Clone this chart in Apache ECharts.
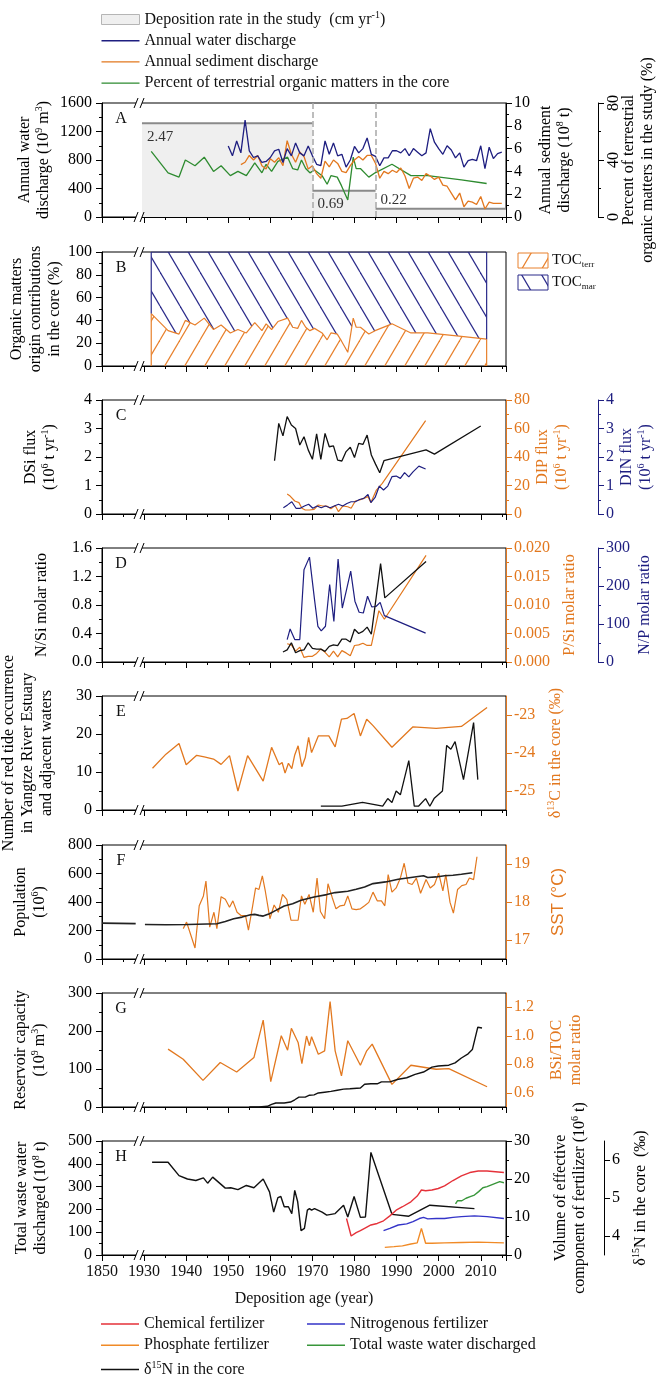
<!DOCTYPE html>
<html>
<head>
<meta charset="utf-8">
<script src="https://cdn.jsdelivr.net/npm/echarts@6/dist/echarts.min.js"></script>
<style>
  html, body { margin: 0; padding: 0; background: #fff; }
  #chart-container { width: 657px; height: 1374px; }
</style>
</head>
<body>
<div id="chart-container"></div>
<script>
// ---- data (years are real years; 1850s are shifted behind the axis break) ----
var depositionSegments = [
  { start: 1929.5, end: 1970, rate: 2.47 },
  { start: 1970, end: 1985, rate: 0.69 },
  { start: 1985, end: 2016, rate: 0.22 }
];
var waterStart = 1950;
var waterDischarge = [997, 858, 1067, 900, 1359, 928, 835, 858, 765, 780,
  835, 928, 951, 765, 960, 858, 1040, 900, 858, 997,
  858, 740, 720, 1067, 880, 1040, 858, 880, 700, 800,
  990, 900, 960, 1110, 880, 850, 720, 830, 830, 930,
  930, 900, 960, 860, 960, 910, 860, 900, 1240, 1050,
  960, 880, 1000, 940, 830, 900, 700, 790, 810, 790,
  1000, 680, 980, 820, 890, 910];
var sedimentStart = 1953;
var sedimentDischarge = [4.6, 4.8, 5.4, 5.0, 5.4, 4.5, 4.2,
  5.1, 4.8, 5.2, 4.5, 6.7, 5.5, 4.8, 5.7, 5.3, 4.2,
  4.5, 3.8, 3.4, 4.9, 4.4, 5.0, 4.7, 4.0, 3.9, 4.5,
  5.0, 5.3, 5.0, 5.4, 5.4, 4.7, 3.4, 4.0, 3.8, 4.1,
  3.9, 4.3, 3.6, 2.5, 3.4, 3.5, 3.2, 3.8, 3.6, 3.3,
  3.5, 2.8, 2.7, 2.1, 1.5, 2.1, 0.9, 1.4, 1.3, 1.1,
  1.8, 0.7, 1.3, 1.2, 1.2, 1.2];
var terrPercent = [[1931.7, 46], [1935.7, 31], [1938.3, 28], [1939.8, 40], [1942.1, 36], [1944.3, 42],
  [1946.5, 32], [1948.3, 36], [1950.5, 29], [1952.3, 32], [1954.3, 29], [1956.3, 38], [1958, 31],
  [1959, 37], [1960.3, 32], [1961.8, 39], [1964.1, 42], [1965.3, 34], [1966.5, 33], [1967.4, 40],
  [1968.4, 34], [1969.4, 31], [1970.5, 33], [1972.3, 29], [1973.5, 23], [1974.4, 29], [1975.9, 28],
  [1976.9, 22], [1978.4, 12], [1979.7, 42], [1980.4, 34], [1981.4, 34], [1983.4, 28], [1984.9, 31],
  [1988.9, 37], [1993.4, 29], [1997.4, 29], [2005.4, 26], [2011.4, 23.5]];

var dsiFlux = [[1961, 1.87], [1962, 3.18], [1963, 2.74], [1964, 3.42], [1965, 3.12], [1966, 3.0], [1967, 2.42],
  [1968, 2.71], [1969, 2.25], [1970, 1.92], [1971, 2.81], [1972, 1.92], [1973, 2.83], [1974, 2.36],
  [1975, 2.39], [1976, 1.89], [1977, 1.86], [1978, 2.19], [1979, 2.34], [1980, 1.98], [1981, 2.48],
  [1982, 2.44], [1983, 2.77], [1984, 2.07], [1985, 1.75], [1986, 1.45], [1987, 1.87], [1997, 2.25],
  [1999, 2.1], [2010, 3.09]];
var dipFlux = [[1964, 14], [1964.7, 12.6], [1965.8, 9.1], [1966.8, 8], [1967.5, 4], [1968.3, 2.8], [1969.3, 2.8],
  [1970.4, 3.3], [1971.4, 6.3], [1972.4, 5.6], [1973.4, 5.6], [1974.4, 3.7], [1975.4, 6], [1976.2, 1.6],
  [1977.2, 5.6], [1978.4, 5.1], [1979.2, 4], [1980.2, 9.1], [1981.2, 9.8], [1982.2, 11], [1983.2, 12.2],
  [1983.9, 8], [1985.2, 16.8], [1986.6, 21.5], [1996.9, 65.5]];
var dinFlux = [[1963.1, 0.22], [1964.1, 0.32], [1965.1, 0.43], [1966.1, 0.2], [1967.1, 0.2], [1968.1, 0.28],
  [1969.1, 0.34], [1970.1, 0.2], [1971.1, 0.28], [1972.1, 0.22], [1973.1, 0.28], [1974.2, 0.22],
  [1975.2, 0.28], [1976.2, 0.34], [1977.2, 0.28], [1978.2, 0.37], [1979.2, 0.43], [1980.2, 0.43],
  [1981.2, 0.51], [1982.2, 0.55], [1983.2, 0.69], [1983.9, 0.4], [1984.9, 0.58], [1985.9, 0.98],
  [1986.9, 0.84], [1987.9, 0.98], [1988.9, 1.31], [1989.9, 1.33], [1990.9, 1.25], [1991.9, 1.45],
  [1992.9, 1.3], [1993.9, 1.48], [1995.3, 1.68], [1996.9, 1.58]];

var nsiRatio = [[1963, 0.14], [1964, 0.17], [1965, 0.27], [1966, 0.13], [1967, 0.16], [1968, 0.17], [1969, 0.27],
  [1970, 0.19], [1971, 0.18], [1972, 0.18], [1973, 0.15], [1974, 0.22], [1975, 0.24], [1976, 0.23],
  [1977, 0.32], [1978, 0.32], [1979, 0.28], [1980, 0.46], [1981, 0.40], [1982, 0.43], [1983, 0.49],
  [1984, 0.39], [1986.2, 1.38], [1987.2, 0.90], [1997, 1.41]];
var psiRatio = [[1964, 0.0032], [1965, 0.003], [1966, 0.0019], [1967, 0.0026], [1968, 0.0008], [1969, 0.001],
  [1970, 0.001], [1971, 0.0015], [1972, 0.0023], [1973, 0.0017], [1974, 0.0009], [1975, 0.0019],
  [1976, 0.0009], [1977, 0.002], [1978, 0.0016], [1979, 0.0011], [1980, 0.0029], [1981, 0.003],
  [1982, 0.0033], [1983, 0.0029], [1984, 0.0029], [1985.8, 0.009], [1987.1, 0.0075], [1997, 0.0187]];
var npRatio = [[1964, 59], [1964.7, 87], [1965.8, 59], [1967, 59], [1968, 243], [1969.3, 276], [1970.5, 164],
  [1971.3, 94], [1972.1, 82], [1973.1, 94], [1974.1, 204], [1975.1, 107], [1976.1, 271], [1977.1, 142],
  [1978.1, 190], [1979.1, 239], [1980.1, 160], [1981.1, 131], [1982.1, 129], [1983.1, 173],
  [1984.1, 145], [1985.1, 146], [1986.1, 157], [1987.1, 122], [1996.9, 76]];

var redTide = [[1972, 1], [1977, 1], [1981.9, 2], [1986.7, 1], [1987.9, 3], [1988.9, 2], [1989.9, 5],
  [1990.9, 4], [1992.9, 13], [1994.2, 1], [1995.2, 1], [1996.9, 3], [1997.9, 1], [1998.9, 3],
  [2000.9, 5], [2001.9, 17], [2002.9, 16], [2003.9, 18], [2005.9, 8], [2008.3, 23], [2009.3, 8]];
var d13C = [[1932, -24.4], [1935.2, -24.03], [1938.3, -23.75], [1940, -24.31], [1942.5, -24.06], [1944.3, -24.1],
  [1946.5, -24.16], [1948.3, -24.3], [1950.3, -24.07], [1952.3, -25], [1954.6, -24.07], [1958.3, -24.74],
  [1960.3, -23.85], [1962.1, -24.31], [1962.8, -24.25], [1963.5, -24.53], [1964.3, -24.27], [1965.1, -24.41],
  [1965.8, -24.05], [1966.6, -23.81], [1967.5, -24.36], [1968.3, -24.12], [1969.1, -23.59], [1969.8, -23.99],
  [1971.4, -23.55], [1973.9, -23.55], [1975.4, -23.84], [1976.9, -23.11], [1978.2, -23.09], [1979.9, -22.96],
  [1981.4, -23.55], [1982.9, -23.11], [1984.4, -23.28], [1988.9, -23.85], [1993.9, -23.31], [1999.4, -23.35],
  [2005.4, -23.3], [2011.5, -22.8]];

var populationEarly = [[1850, 252], [1858, 248]];
var population = [[1930.2, 242], [1935.2, 240], [1940.3, 242], [1947.3, 247], [1949.3, 263], [1951.3, 282],
  [1953.3, 294], [1955.3, 311], [1956.3, 313], [1957.3, 306], [1958.3, 301], [1959.8, 318], [1961.3, 341],
  [1963.3, 372], [1965.3, 388], [1967.3, 412], [1970.4, 435], [1973.4, 452], [1975.4, 466], [1978.4, 475],
  [1980.4, 489], [1982.4, 506], [1984.4, 529], [1987.4, 541], [1990.4, 560], [1993.4, 572], [1996.4, 584],
  [1997.4, 572], [1999.4, 576], [2001.4, 584], [2003.4, 588], [2005.4, 595], [2008, 605]];
var sst = [[1939.3, 17.3], [1940.1, 17.47], [1941.1, 17.13], [1942.1, 16.79], [1943.1, 17.9], [1944.1, 18.16],
  [1944.7, 18.55], [1945.6, 17.34], [1946.6, 17.73], [1947.3, 17.3], [1948.3, 18.14], [1949.3, 18.07],
  [1950.3, 17.86], [1951.1, 18.03], [1952.1, 17.73], [1953.1, 17.64], [1954.1, 17.64], [1954.8, 17.26],
  [1955.8, 17.9], [1956.5, 18.37], [1957.3, 18.33], [1958.1, 18.69], [1958.8, 18.29], [1959.9, 17.56],
  [1960.9, 17.92], [1961.9, 17.73], [1962.9, 18.2], [1963.9, 18.07], [1964.9, 17.52], [1965.9, 17.52],
  [1966.6, 17.52], [1967.4, 18.16], [1968.2, 17.94], [1969.2, 18.2], [1970.2, 17.73], [1971.1, 18.63],
  [1971.9, 17.75], [1972.9, 17.56], [1973.7, 18.48], [1974.7, 18.12], [1975.6, 17.82], [1976.6, 17.9],
  [1977.6, 17.92], [1978.4, 18.16], [1979.4, 17.82], [1980.4, 17.8], [1981.4, 17.82], [1982.4, 17.9],
  [1983.4, 17.99], [1984.4, 18.26], [1985.4, 18.03], [1986.4, 18.03], [1987.2, 17.9], [1988, 18.72],
  [1988.9, 18.26], [1989.9, 18.37], [1990.9, 18.63], [1991.8, 19.02], [1992.7, 18.5], [1993.7, 18.46],
  [1994.7, 18.63], [1995.7, 18.23], [1997, 18.59], [1998, 18.37], [1999, 18.46], [2000, 18.76],
  [2001, 18.29], [2001.7, 18.72], [2002.7, 17.99], [2003.5, 17.71], [2004.5, 18.33], [2005.5, 18.43],
  [2006.5, 18.46], [2007.3, 18.63], [2008.3, 18.59], [2009.1, 19.19]];

var reservoir = [[1955, 0], [1957.3, 0], [1959.3, 1.8], [1960.3, 7], [1961.3, 10.5], [1963.3, 10.5], [1964.8, 13],
  [1965.8, 19], [1966.8, 26], [1968.3, 26], [1969.3, 31], [1970.4, 32], [1971.4, 37], [1972.9, 39],
  [1974.4, 41], [1975.9, 44], [1977.4, 47], [1978.9, 48], [1981.4, 50], [1982.4, 60], [1983.9, 61],
  [1985.4, 61], [1986.4, 66], [1988.4, 66], [1990.4, 73], [1992.4, 77], [1994.4, 86], [1996.4, 92],
  [1998.4, 105], [1999.9, 108], [2002.4, 110], [2003.9, 116], [2005.4, 129], [2007, 140], [2008, 151],
  [2009.3, 210], [2010.3, 208]];
var bsiToc = [[1935.7, 0.906], [1939.3, 0.835], [1944, 0.687], [1948.1, 0.812], [1952, 0.746], [1956.1, 0.847],
  [1958.3, 1.11], [1960.1, 0.678], [1962.6, 1.0], [1964.1, 0.899], [1965, 1.052], [1966.6, 0.953],
  [1967.5, 0.805], [1968.6, 0.998], [1969.3, 0.93], [1969.8, 0.993], [1971.4, 0.87], [1972.9, 0.894],
  [1974.2, 1.24], [1975.4, 0.894], [1976.9, 0.718], [1978.4, 0.965], [1981.4, 0.793], [1982.9, 0.894],
  [1984.2, 0.941], [1988.9, 0.659], [1993.4, 0.793], [1999.4, 0.765], [2002.4, 0.769], [2011.5, 0.642]];

var d15N = [[1931.9, 5.94], [1935.7, 5.94], [1938.3, 5.59], [1940.3, 5.5], [1942.3, 5.46], [1944.1, 5.53],
  [1945.1, 5.39], [1946.3, 5.55], [1949.3, 5.26], [1950.6, 5.27], [1952.3, 5.22], [1954.3, 5.33],
  [1956.1, 5.27], [1958.3, 5.5], [1959.8, 5.16], [1960.8, 4.63], [1961.8, 5.01], [1962.5, 5.04],
  [1963.3, 4.77], [1964.3, 4.77], [1965.1, 4.59], [1965.8, 5.2], [1966.5, 4.9], [1967.3, 4.14],
  [1968.1, 4.2], [1968.8, 4.68], [1969.3, 4.72], [1969.8, 4.68], [1970.5, 4.72], [1972.3, 4.63],
  [1973.4, 4.55], [1975.4, 4.59], [1977.4, 4.81], [1978.4, 4.5], [1979.9, 5.04], [1981.4, 4.49],
  [1982.6, 4.5], [1983.9, 6.2], [1988.9, 4.57], [1992.9, 4.52], [1997.9, 4.81], [2008.5, 4.72]];
var chemicalFert = [[1978.1, 9.6], [1979.2, 5.0], [1980.4, 5.9], [1981.4, 6.4], [1982.4, 7.0], [1983.9, 7.9],
  [1985.4, 8.3], [1986.9, 9.0], [1988.4, 10.3], [1989.9, 11.8], [1991.4, 12.7], [1993.4, 14.0],
  [1994.9, 15.5], [1995.9, 17.1], [1996.9, 16.9], [1998.4, 17.1], [1999.9, 17.5], [2001.4, 18.2],
  [2003.4, 19.6], [2005.4, 20.8], [2007.4, 21.7], [2009.4, 22.1], [2011.5, 22.1], [2013.5, 21.9],
  [2015.5, 21.7]];
var nitroFert = [[1986.9, 6.4], [1988.4, 7.0], [1990.4, 7.9], [1992.4, 8.2], [1993.9, 8.8], [1995.4, 9.6],
  [1996.4, 9.9], [1997.4, 9.5], [1999.4, 9.6], [2001.4, 9.6], [2003.4, 9.9], [2005.4, 10.1],
  [2008.5, 10.3], [2011.5, 10.1], [2015.5, 9.6]];
var phosFert = [[1987.2, 2.0], [1989.4, 2.2], [1991.4, 2.4], [1993.4, 2.9], [1994.9, 3.2], [1995.9, 7.0],
  [1996.9, 3.1], [1998.4, 3.1], [2001.4, 3.2], [2005.4, 3.3], [2009.4, 3.4], [2015.5, 3.2]];
var wasteWater = [[2004, 224], [2004.5, 238], [2005.5, 238], [2006.5, 249], [2007.5, 256], [2008.5, 263],
  [2009.5, 278], [2010.5, 295], [2011.5, 300], [2013, 311], [2014.5, 322], [2015.5, 317]];

// ---- style / layout ----
var SERIF = '"Liberation Serif", "Times New Roman", serif';
var SANS = '"Liberation Sans", Arial, sans-serif';
var NAVY = '#1e1e80', ORANGE = '#e2781f', GREEN = '#2e8b30';
var RED = '#e5323a', BLUE = '#3434c8', ORANGE2 = '#f08a26', GREEN2 = '#38963a';
var tops = [103, 252, 400, 548, 696, 845, 993, 1141];
var H = 114, LEFT = 102, RIGHT = 151;
var letters = ['A', 'B', 'C', 'D', 'E', 'F', 'G', 'H'];
var BREAK_AT = 1928.8;
var LINE_ICON = 'path://M0,4.3L38,4.3L38,5.7L0,5.7Z M0,0L0,10';

// axis titles: [panel, centre x of the text block, text, colour, font, size]
var axisTitles = [
  [0, 34.5, 'Annual water\ndischarge (10{sup|9} m{sup|3})'],
  [0, 555.5, 'Annual sediment\ndischarge (10{sup|8} t)'],
  [0, 638, 'Percent of terrestrial\norganic matters in the study (%)'],
  [1, 36, 'Organic matters\norigin contributions\nin the core (%)'],
  [2, 40, 'DSi flux\n(10{sup|6} t yr{sup|-1})'],
  [2, 552.5, 'DIP flux\n(10{sup|6} t yr{sup|-1})', ORANGE],
  [2, 636.5, 'DIN flux\n(10{sup|6} t yr{sup|-1})', NAVY],
  [3, 42, 'N/Si molar ratio'],
  [3, 570, 'P/Si molar ratio', ORANGE],
  [3, 645, 'N/P molar ratio', NAVY],
  [4, 28, 'Number of red tide occurrence\nin Yangtze River Estuary\nand adjacent waters'],
  [4, 556, 'δ{sup|13}C in the core (‰)', ORANGE],
  [5, 30.5, 'Population\n(10{sup|6})'],
  [5, 558, 'SST (°C)', ORANGE, SANS, 17],
  [6, 30.5, 'Reservoir capacity\n(10{sup|9} m{sup|3})'],
  [6, 566.5, 'BSi/TOC\nmolar ratio', ORANGE],
  [7, 31, 'Total waste water\ndischarged (10{sup|8} t)'],
  [7, 570.5, 'Volume of effective\ncomponent of fertilizer (10{sup|6} t)'],
  [7, 641, 'δ{sup|15}N in the core  (‰)']
];

// 1850s sit just left of the break
function tx(year) { return year < 1900 ? year + 70 : year; }
function yearLabel(v) { return String(v < 1925 ? v - 70 : v); }
function pts(arr) { return arr.map(function (p) { return [tx(p[0]), p[1]]; }); }
function yearly(start, vals) { return vals.map(function (v, i) { return [start + i, v]; }); }
function plain(v) { return String(v); }

function rich(color, font) {
  return {
    sup: { fontSize: 10, verticalAlign: 'top', lineHeight: 19, fill: color, color: color, fontFamily: font || SERIF },
    sub: { fontSize: 10, verticalAlign: 'bottom', lineHeight: 19, fill: color, color: color, fontFamily: font || SERIF }
  };
}

function hatch(color, forward) {
  var w = 20, h = 34, c = document.createElement('canvas');
  c.width = w; c.height = h;
  var g = c.getContext('2d');
  g.strokeStyle = color; g.lineWidth = 1.2;
  for (var k = -1; k <= 1; k++) {
    g.beginPath();
    if (forward) { g.moveTo(k * w, h); g.lineTo(k * w + w, 0); }
    else { g.moveTo(k * w, 0); g.lineTo(k * w + w, h); }
    g.stroke();
  }
  return { image: c, repeat: 'repeat' };
}
var terrFill = hatch('#e8802c', true);
var marFill = hatch('#2a2a8a', false);

function yAx(grid, o) {
  var color = o.color || '#000';
  var right = o.pos === 'right';
  return {
    type: 'value', gridIndex: grid, position: o.pos || 'left', offset: o.offset || 0,
    show: o.show !== false, min: o.min, max: o.max, interval: o.interval,
    axisLine: { show: true, lineStyle: { color: color, width: 1 } },
    axisTick: { show: true, length: 6, lineStyle: { color: color }, customValues: o.ticks },
    minorTick: { show: !o.ticks, splitNumber: 2, length: 3, lineStyle: { color: color } },
    splitLine: { show: false },
    axisLabel: { color: color, fontSize: 16, fontFamily: SERIF, margin: right ? 8 : 10,
      formatter: o.fmt || plain, rotate: o.rotate || 0, customValues: o.ticks }
  };
}

function line(name, data, gi, yi, color, width, extra) {
  var s = {
    name: name, type: 'line', xAxisIndex: gi, yAxisIndex: yi, data: pts(data),
    symbol: 'none', lineStyle: { color: color, width: width || 1.2 }, itemStyle: { color: color }
  };
  return Object.assign(s, extra || {});
}

var grids = tops.map(function (t) {
  return { left: LEFT, right: RIGHT, top: t, height: H, show: true, borderColor: '#000', borderWidth: 1 };
});

var xAxes = tops.map(function (t, i) {
  return {
    type: 'value', gridIndex: i, min: 1920, max: 2016, interval: 10,
    axisLine: { lineStyle: { color: '#000' } },
    axisTick: { length: 6, lineStyle: { color: '#000' } },
    minorTick: { show: true, splitNumber: 2, length: 3, lineStyle: { color: '#000' } },
    splitLine: { show: false },
    axisLabel: { show: i === 7, formatter: yearLabel, fontSize: 16, fontFamily: SERIF, color: '#111',
      margin: 9, showMaxLabel: false },
    name: i === 7 ? 'Deposition age (year)' : '', nameLocation: 'middle', nameGap: 36,
    nameTextStyle: { fontSize: 16, fontFamily: SERIF, color: '#111' }
  };
});

var yAxes = [
  yAx(0, { min: 0, max: 1600, interval: 400 }),
  yAx(0, { pos: 'right', min: 0, max: 10, interval: 2 }),
  yAx(0, { pos: 'right', offset: 92, min: 0, max: 80, interval: 40, rotate: 90 }),
  yAx(0, { show: false, min: 0, max: 3 }),
  yAx(1, { min: 0, max: 100, interval: 20 }),
  yAx(2, { min: 0, max: 4, interval: 1 }),
  yAx(2, { pos: 'right', min: 0, max: 80, interval: 20, color: ORANGE }),
  yAx(2, { pos: 'right', offset: 92, min: 0, max: 4, interval: 1, color: NAVY }),
  yAx(3, { min: 0, max: 1.6, interval: 0.4, fmt: function (v) { return v.toFixed(1); } }),
  yAx(3, { pos: 'right', min: 0, max: 0.02, interval: 0.005, color: ORANGE, fmt: function (v) { return v.toFixed(3); } }),
  yAx(3, { pos: 'right', offset: 92, min: 0, max: 300, interval: 100, color: NAVY }),
  yAx(4, { min: 0, max: 30, interval: 10 }),
  yAx(4, { pos: 'right', min: -25.5, max: -22.5, ticks: [-25, -24, -23], color: ORANGE }),
  yAx(5, { min: 0, max: 800, interval: 200 }),
  yAx(5, { pos: 'right', min: 16.5, max: 19.5, ticks: [17, 18, 19], color: ORANGE }),
  yAx(6, { min: 0, max: 300, interval: 100 }),
  yAx(6, { pos: 'right', min: 0.5, max: 1.3, ticks: [0.6, 0.8, 1.0, 1.2], color: ORANGE,
    fmt: function (v) { return v.toFixed(1); } }),
  yAx(7, { min: 0, max: 500, interval: 100 }),
  yAx(7, { pos: 'right', min: 0, max: 30, interval: 10 }),
  yAx(7, { pos: 'right', offset: 98, min: 3.5, max: 6.5, ticks: [4, 5, 6] })
];

var DEP = 'Deposition rate in the study';
var series = [];
depositionSegments.forEach(function (s, i) {
  series.push({
    name: DEP, type: 'line', xAxisIndex: 0, yAxisIndex: 3, z: 1, symbol: 'none',
    data: pts([[s.start, s.rate], [s.end, s.rate]]),
    lineStyle: { color: '#8a8a8a', width: 2 }, itemStyle: { color: '#efefef' },
    areaStyle: { color: '#efefef', opacity: 1 },
    markLine: i === 0 ? {
      silent: true, symbol: 'none', label: { show: false },
      lineStyle: { color: '#a8a8a8', type: 'dashed', width: 1.5 },
      data: depositionSegments.slice(1).map(function (d) { return { xAxis: tx(d.start) }; })
    } : undefined
  });
});
series.push(line('Percent of terrestrial organic matters in the core', terrPercent, 0, 2, GREEN, 1.3));
series.push(line('Annual sediment discharge', yearly(sedimentStart, sedimentDischarge), 0, 1, ORANGE, 1.3));
series.push(line('Annual water discharge', yearly(waterStart, waterDischarge), 0, 0, NAVY, 1.3));

// B: terrestrial vs marine contributions
series.push(line('TOC_terr', terrPercent, 1, 4, '#e8802c', 1.2, { areaStyle: { color: terrFill, opacity: 1, origin: 'start' } }));
series.push(line('TOC_mar', terrPercent, 1, 4, '#2a2a8a', 0, { lineStyle: { width: 0, opacity: 0 },
  areaStyle: { color: marFill, opacity: 1, origin: 'end' } }));
var first = terrPercent[0], last = terrPercent[terrPercent.length - 1];
[first, last].forEach(function (p) {
  series.push(line('TOC edge', [[p[0], 0], [p[0], p[1]]], 1, 4, '#e8802c', 1.2));
  series.push(line('TOC edge', [[p[0], p[1]], [p[0], 100]], 1, 4, '#2a2a8a', 1.2));
});
series.push(line('TOC top', [[first[0], 100], [last[0], 100]], 1, 4, '#2a2a8a', 1.2));

series.push(line('DIP flux', dipFlux, 2, 6, ORANGE));
series.push(line('DIN flux', dinFlux, 2, 7, NAVY));
series.push(line('DSi flux', dsiFlux, 2, 5, '#111', 1.3));

series.push(line('P/Si', psiRatio, 3, 9, ORANGE));
series.push(line('N/P', npRatio, 3, 10, NAVY));
series.push(line('N/Si', nsiRatio, 3, 8, '#111', 1.3));

series.push(line('d13C', d13C, 4, 12, ORANGE, 1.3));
series.push(line('Red tide', redTide, 4, 11, '#111', 1.3));

series.push(line('SST', sst, 5, 14, ORANGE, 1.2));
series.push(line('Population', populationEarly, 5, 13, '#222', 1.6));
series.push(line('Population', population, 5, 13, '#222', 1.6));

series.push(line('BSi/TOC', bsiToc, 6, 16, ORANGE, 1.3));
series.push(line('Reservoir', reservoir, 6, 15, '#111', 1.4));

series.push(line('δ15N in the core', d15N, 7, 19, '#111', 1.4));
series.push(line('Chemical fertilizer', chemicalFert, 7, 18, RED, 1.4));
series.push(line('Nitrogenous fertilizer', nitroFert, 7, 18, BLUE, 1.4));
series.push(line('Phosphate fertilizer', phosFert, 7, 18, ORANGE2, 1.4));
series.push(line('Total waste water discharged', wasteWater, 7, 17, GREEN2, 1.4));

var legendText = { fontSize: 16, fontFamily: SERIF, color: '#111', rich: rich('#111') };
function legendFmt(name) {
  if (name === DEP) return name + '  (cm yr{sup|-1})';
  if (name === 'δ15N in the core') return 'δ{sup|15}N in the core';
  return name;
}
function legend(left, top, names) {
  var data = names.map(function (n) {
    if (n === DEP) return { name: n, icon: 'rect', itemStyle: { color: '#efefef', borderColor: '#b5b5b5', borderWidth: 1 } };
    return { name: n, icon: LINE_ICON };
  });
  return { left: left, top: top, orient: 'vertical', padding: 0, itemWidth: 38, itemHeight: 10, itemGap: 5.2,
    data: data, formatter: legendFmt, textStyle: legendText, selectedMode: false };
}

var option = {
  animation: false,
  backgroundColor: '#fff',
  grid: grids,
  xAxis: xAxes,
  yAxis: yAxes,
  legend: [
    legend(101, 10, [DEP, 'Annual water discharge', 'Annual sediment discharge',
      'Percent of terrestrial organic matters in the core']),
    legend(101, 1316, ['Chemical fertilizer', 'Phosphate fertilizer']),
    legend(307, 1316, ['Nitrogenous fertilizer', 'Total waste water discharged']),
    legend(101, 1360, ['δ15N in the core'])
  ],
  series: series
};

var dom = document.getElementById('chart-container');
var myChart = echarts.init(dom, null, { renderer: 'canvas' });
myChart.setOption(option);

// ---- annotations: axis titles, axis breaks, panel letters, rate labels, B legend ----
var graphics = [];
axisTitles.forEach(function (t) {
  var color = t[3] || '#000';
  graphics.push({ type: 'text', z: 100, x: t[1], y: tops[t[0]] + H / 2, rotation: Math.PI / 2,
    style: { text: t[2], fontSize: t[5] || 16, fontFamily: t[4] || SERIF, fill: color, lineHeight: 19,
      align: 'center', verticalAlign: 'middle', rich: rich(color, t[4]) } });
});
tops.forEach(function (top, i) {
  var x = myChart.convertToPixel({ xAxisIndex: i }, BREAK_AT);
  [top, top + H].forEach(function (y) {
    graphics.push({ type: 'rect', z: 100, shape: { x: x - 3, y: y - 2, width: 6, height: 4 }, style: { fill: '#fff' } });
    graphics.push({ type: 'line', z: 101, shape: { x1: x - 5, y1: y + 5, x2: x - 1, y2: y - 5 }, style: { stroke: '#000', lineWidth: 1 } });
    graphics.push({ type: 'line', z: 101, shape: { x1: x + 1, y1: y + 5, x2: x + 5, y2: y - 5 }, style: { stroke: '#000', lineWidth: 1 } });
  });
  graphics.push({ type: 'text', z: 100, x: 121, y: top + 16,
    style: { text: letters[i], fontSize: 16, fontFamily: SERIF, fill: '#111', align: 'center', verticalAlign: 'middle' } });
});
depositionSegments.forEach(function (s, i) {
  var x = myChart.convertToPixel({ xAxisIndex: 0 }, tx(s.start));
  var y = myChart.convertToPixel({ yAxisIndex: 3 }, s.rate);
  var above = i === depositionSegments.length - 1;
  graphics.push({ type: 'text', z: 100, x: x + 5, y: above ? y - 1 : y + 6,
    style: { text: s.rate.toFixed(2), fontSize: 15, fontFamily: SERIF, fill: '#333', align: 'left',
      verticalAlign: above ? 'bottom' : 'top' } });
});
[['TOC{sub|terr}', terrFill, '#e8802c', 253], ['TOC{sub|mar}', marFill, '#2a2a8a', 275]].forEach(function (it) {
  graphics.push({ type: 'rect', z: 100, shape: { x: 518, y: it[3], width: 30, height: 15 },
    style: { fill: it[1], stroke: it[2], lineWidth: 1 } });
  graphics.push({ type: 'text', z: 100, x: 552, y: it[3] + 7,
    style: { text: it[0], fontSize: 15, fontFamily: SERIF, fill: '#111', verticalAlign: 'middle',
      rich: { sub: { fontSize: 9, fontFamily: SERIF, fill: '#111', verticalAlign: 'bottom', lineHeight: 18 } } } });
});
myChart.setOption({ graphic: graphics });

window.addEventListener('resize', myChart.resize);
</script>
</body>
</html>
